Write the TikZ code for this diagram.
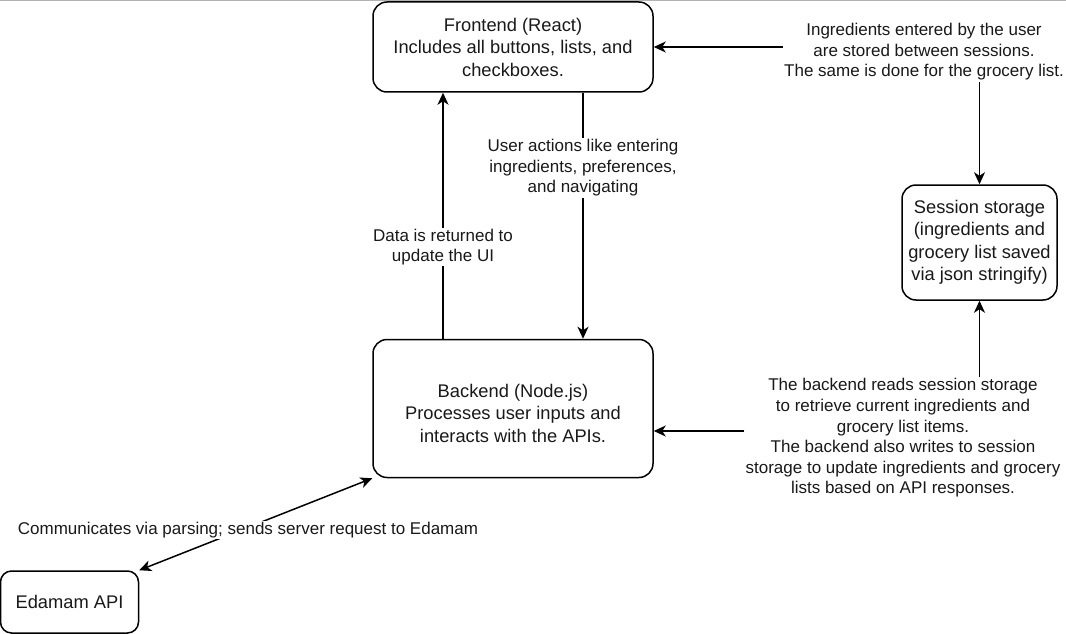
\documentclass[tikz,border=0pt]{standalone}
\usepackage{fontspec}
\setmainfont{Liberation Sans}
\usetikzlibrary{arrows.meta}
\begin{document}
\begin{tikzpicture}[x=1pt,y=-1pt,
  box/.style={draw=black, line width=1.5pt, rounded corners=14pt, fill=white, inner sep=0pt,
    align=center, text=black!90, font=\fontsize{18.3}{22.5}\selectfont},
  lbl/.style={fill=white, inner sep=1pt, align=center, text=black!90, font=\fontsize{17}{20.6}\selectfont},
  arr/.style={line width=1.5pt, -{Stealth[length=12pt,width=11pt,inset=3.5pt]}},
  darr/.style={line width=1.5pt, {Stealth[length=12pt,width=11pt,inset=3.5pt]}-{Stealth[length=12pt,width=11pt,inset=3.5pt]}}]
\useasboundingbox (0,0) rectangle (1066,634);
\draw[line width=1.5pt, black!30] (0,0.75) -- (1066,0.75);

\node[box, minimum width=280pt, minimum height=90pt] (fe) at (513,47) {Frontend (React)\\Includes all buttons, lists, and\\checkboxes.};
\node[box, minimum width=280pt, minimum height=138pt] (be) at (513,408.5) {\mbox{}\\Backend (Node.js)\\Processes user inputs and\\interacts with the APIs.};
\node[box, minimum width=155pt, minimum height=115pt] (ss) at (979.5,242.5) {Session storage\\(ingredients and\\grocery list saved\\via json stringify)};
\begin{scope}
\clip (0,0) rectangle (1066,634);
\node[box, rounded corners=11pt, minimum width=138pt, minimum height=62pt] (ed) at (69.5,602) {Edamam API};
\end{scope}

% top-right label and arrows
\node[lbl] (lt) at (924,52) {Ingredients entered by the user\\are stored between sessions.\\The same is done for the grocery list.};
\draw[arr] (lt.west |- fe.east) -- (fe.east);
\draw[arr] (lt.south -| ss.north) -- (ss.north);

% bottom-right label and arrows
\node[lbl] (lb) at (903,438) {The backend reads session storage\\to retrieve current ingredients and\\grocery list items.\\The backend also writes to session\\storage to update ingredients and grocery\\lists based on API responses.};
\draw[arr] (lb.west |- 0,431) -- (be.east |- 0,431);
\draw[arr] (lb.north -| ss.south) -- (ss.south);

% vertical arrows between frontend and backend
\draw[arr] (be.north -| 443,0) -- (fe.south -| 443,0);
\node[lbl] (ld) at (443,247) {Data is returned to\\update the UI};
\draw[arr] (fe.south -| 583,0) -- (be.north -| 583,0);
\node[lbl] (lu) at (583,168) {User actions like entering\\ingredients, preferences,\\and navigating};

% edamam link
\draw[darr] (ed.north east) -- (be.south west);
\node[lbl] (le) at (248,530) {Communicates via parsing; sends server request to Edamam};
\end{tikzpicture}
\end{document}
